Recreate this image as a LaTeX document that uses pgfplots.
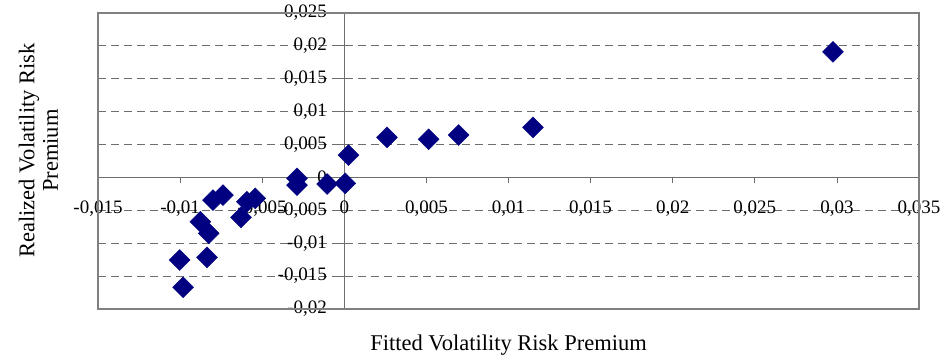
\documentclass[border=0pt]{standalone}
\usepackage{pgfplots}
\pgfplotsset{compat=1.18}
\usepackage{fontspec}
\setmainfont{Liberation Serif}
\definecolor{navy}{HTML}{000080}
\definecolor{framegray}{HTML}{808080}
\definecolor{gridgray}{HTML}{6E6E6E}
\begin{document}
\begin{tikzpicture}
\path[use as bounding box] (-98pt,-52pt) rectangle (848pt,309pt);
\begin{axis}[
  at={(0pt,0pt)}, anchor=south west,
  scale only axis, width=821pt, height=296pt,
  xmin=-0.015, xmax=0.035, ymin=-0.02, ymax=0.025,
  axis lines=middle,
  axis line style={-, draw=gridgray, line width=1pt},
  xtick={-0.015,-0.01,...,0.0351},
  ytick={-0.02,-0.015,...,0.0251},
  hide obscured x ticks=false, hide obscured y ticks=false,
  scaled ticks=false,
  /pgf/number format/.cd, fixed, precision=3, use comma, assume math mode=true, 1000 sep={},
  /pgfplots/.cd,
  tick align=outside, major tick length=6pt,
  tick style={draw=gridgray, line width=0.8pt},
  ymajorgrids,
  major grid style={draw=gridgray, line width=0.8pt, dash pattern=on 8pt off 5pt},
  ticklabel style={font=\fontsize{19}{21}\selectfont},
  xticklabel style={yshift=-14pt},
  yticklabel style={xshift=-8pt},
  xlabel={Fitted Volatility Risk Premium},
  xlabel style={at={(rel axis cs:0.5,0)}, anchor=north, yshift=-22pt, font=\fontsize{22.5}{24}\selectfont},
  ylabel={Realized Volatility Risk\\Premium},
  ylabel style={at={(rel axis cs:-0.0725,0.535)}, anchor=center, rotate=90, align=center, font=\fontsize{22.5}{23.5}\selectfont},
  clip=false,
]
\draw[framegray, line width=1.2pt] (rel axis cs:0,0) rectangle (rel axis cs:1,1);
\addplot[only marks, mark=square*, mark size=7.4pt, mark options={rotate=45, fill=navy, draw=navy}] coordinates {
(-0.01003,-0.01256)
(-0.00982,-0.0167)
(-0.00836,-0.01215)
(-0.00877,-0.00673)
(-0.00826,-0.0085)
(-0.0080,-0.00344)
(-0.00739,-0.00268)
(-0.00629,-0.00607)
(-0.00593,-0.00369)
(-0.00542,-0.00318)
(-0.00288,-0.00014)
(-0.00288,-0.00116)
(-0.00105,-0.0010)
(0.00006,-0.0009)
(0.00026,0.0034)
(0.0026,0.0061)
(0.00514,0.0058)
(0.00696,0.00645)
(0.01149,0.0076)
(0.02976,0.0191)
};
\end{axis}
\end{tikzpicture}
\end{document}
